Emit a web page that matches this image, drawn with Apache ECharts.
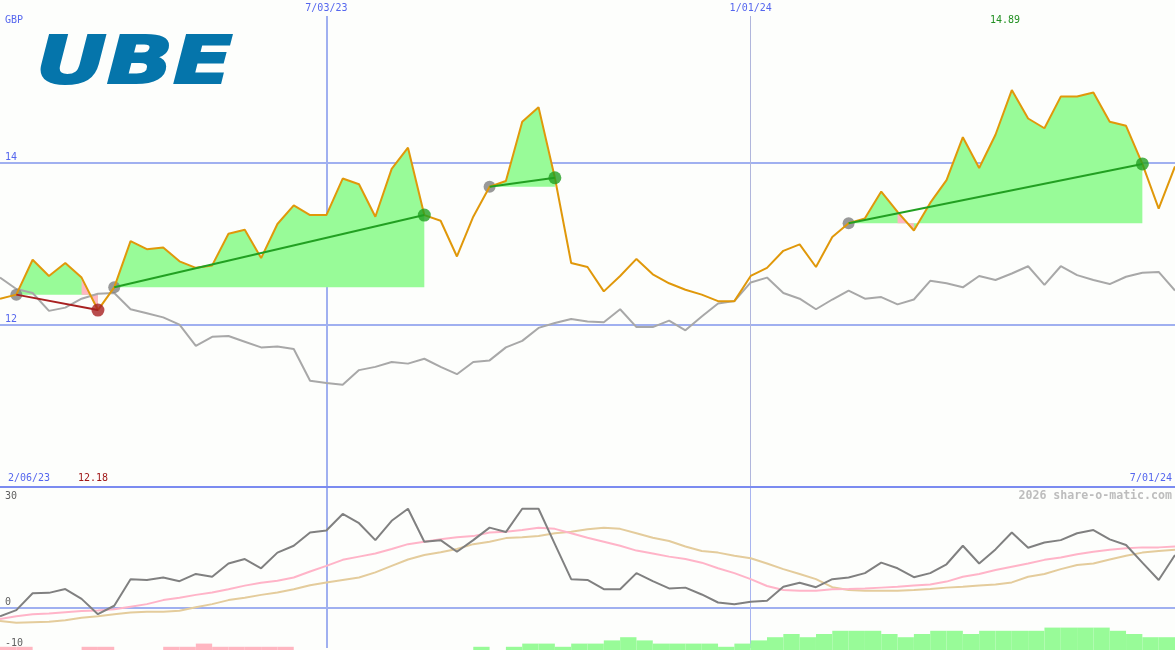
<!DOCTYPE html>
<html><head><meta charset="utf-8">
<script src="https://cdn.jsdelivr.net/npm/echarts@6/dist/echarts.min.js"></script>
<style>html,body{margin:0;padding:0;background:#fdfefc}#c{width:1175px;height:650px}</style>
</head><body><div id="c"></div>
<script>
// ---- data ----
const dates = ["2/13/23","2/20/23","2/27/23","3/06/23","3/13/23","3/20/23","3/27/23","4/03/23","4/10/23","4/17/23","4/24/23","5/01/23","5/08/23","5/15/23","5/22/23","5/29/23","6/05/23","6/12/23","6/19/23","6/26/23","7/03/23","7/10/23","7/17/23","7/24/23","7/31/23","8/07/23","8/14/23","8/21/23","8/28/23","9/04/23","9/11/23","9/18/23","9/25/23","10/02/23","10/09/23","10/16/23","10/23/23","10/30/23","11/06/23","11/13/23","11/20/23","11/27/23","12/04/23","12/11/23","12/18/23","12/25/23","1/01/24","1/08/24","1/15/24","1/22/24","1/29/24","2/05/24","2/12/24","2/19/24","2/26/24","3/04/24","3/11/24","3/18/24","3/25/24","4/01/24","4/08/24","4/15/24","4/22/24","4/29/24","5/06/24","5/13/24","5/20/24","5/27/24","6/03/24","6/10/24","6/17/24","6/24/24","7/01/24"];
const periodStart = "2/06/23";
const markDateMajor = "7/03/23";
const markDateMinor = "1/01/24";
const priceTicks = [12, 14];
const oscTicks = [-10, 0, 30];

const price = [12.32,12.37,12.80,12.60,12.76,12.58,12.18,12.46,13.03,12.93,
12.95,12.78,12.70,12.73,13.12,13.17,12.82,13.24,13.47,13.35,
13.35,13.80,13.73,13.33,13.92,14.18,13.35,13.28,12.84,13.33,
13.70,13.77,14.50,14.68,13.81,12.76,12.71,12.41,12.60,12.81,
12.62,12.51,12.43,12.37,12.29,12.29,12.60,12.70,12.91,12.99,
12.71,13.08,13.25,13.31,13.64,13.39,13.16,13.50,13.78,14.31,
13.93,14.34,14.89,14.54,14.42,14.81,14.81,14.86,14.50,14.45,
13.98,13.43,13.95];

const relative = [12.58,12.44,12.39,12.17,12.21,12.32,12.38,12.39,12.19,12.14,
12.09,12.00,11.74,11.85,11.86,11.79,11.72,11.73,11.70,11.31,
11.28,11.26,11.44,11.48,11.54,11.52,11.58,11.48,11.39,11.54,
11.56,11.72,11.80,11.96,12.02,12.07,12.04,12.03,12.19,11.97,
11.97,12.05,11.93,12.10,12.26,12.29,12.52,12.58,12.39,12.32,
12.19,12.31,12.42,12.32,12.34,12.25,12.31,12.54,12.51,12.46,
12.60,12.55,12.63,12.72,12.49,12.72,12.61,12.55,12.50,12.59,
12.64,12.65,12.42];

const tradeEntry = [1, 7, 30, 52];
const tradeExit  = [6, 26, 34, 70];

const oscillator = [-2.1,-0.6,3.6,3.7,4.65,2.2,-1.6,0.5,7.1,6.9,
7.5,6.6,8.4,7.7,11.0,12.1,9.8,13.7,15.4,18.7,
19.2,23.3,21.0,16.8,21.6,24.6,16.4,16.8,13.9,16.8,
19.9,18.8,24.6,24.6,15.8,7.1,6.9,4.6,4.6,8.6,
6.6,4.8,5.0,3.3,1.3,0.85,1.5,1.75,5.2,6.2,
5.1,7.1,7.5,8.6,11.2,9.8,7.6,8.6,10.8,15.4,
11.0,14.5,18.7,14.9,16.2,16.8,18.5,19.3,17.0,15.6,
11.2,6.9,13.1];

const oscFast = [-2.8,-2.1,-1.6,-1.4,-1.1,-0.8,-0.7,-0.4,0.25,0.9,
1.9,2.5,3.2,3.8,4.6,5.5,6.2,6.7,7.5,9.0,
10.4,11.9,12.7,13.5,14.6,15.8,16.4,17.0,17.5,17.8,
18.7,18.9,19.3,19.9,19.6,18.5,17.4,16.4,15.4,14.2,
13.5,12.7,12.1,11.2,9.8,8.6,7.1,5.4,4.4,4.2,
4.2,4.6,4.65,4.8,5.0,5.2,5.5,5.8,6.5,7.7,
8.4,9.4,10.2,11.0,11.9,12.5,13.3,13.9,14.4,14.8,
15.0,15.0,15.2];

const oscSlow = [-3.3,-3.7,-3.6,-3.5,-3.1,-2.5,-2.1,-1.6,-1.2,-1.0,
-1.0,-0.75,0.1,0.9,1.9,2.5,3.2,3.8,4.6,5.6,
6.3,6.9,7.5,8.8,10.4,12.0,13.1,13.8,14.6,15.8,
16.4,17.3,17.5,17.8,18.5,18.9,19.5,19.9,19.6,18.5,
17.4,16.6,15.2,14.1,13.7,12.9,12.3,11.0,9.6,8.4,
7.1,5.1,4.4,4.2,4.2,4.2,4.4,4.65,5.0,5.2,
5.5,5.8,6.3,7.7,8.4,9.6,10.6,11.0,12.0,12.9,
13.7,14.1,14.4];

// one value per week interval (between consecutive dates)
const histogram = [-1,-1,0,0,0,-1,-1,0,0,0,
-1,-1,-2,-1,-1,-1,-1,-1,0,0,
0,0,0,0,0,0,0,0,0,1,
0,1,2,2,1,2,2,3,4,3,
2,2,2,2,1,2,3,4,5,4,
5,6,6,6,5,4,5,6,6,5,
6,6,6,6,7,7,7,7,6,5,
4,4];

// ---- styles ----
const GREEN_FILL = '#98fb98', PINK_FILL = '#ffb6c1';
const BLUE_TXT = '#5566ee', GRID_BLUE = '#a0b0f0';
const MONO = '"DejaVu Sans Mono", monospace';

const chart = echarts.init(document.getElementById('c'), null, {renderer: 'canvas'});
const series = [];

tradeEntry.forEach((e, t) => {
  const x = tradeExit[t];
  const base = price[e];
  series.push({
    type: 'line', xAxisIndex: 0, yAxisIndex: 0, silent: true, z: 1,
    data: price.map((v, i) => (i >= e && i <= x) ? v : null),
    symbol: 'none', lineStyle: {width: 0, opacity: 0},
    areaStyle: {color: GREEN_FILL, opacity: 1, origin: base}
  });
  series.push({
    type: 'line', xAxisIndex: 0, yAxisIndex: 0, silent: true, z: 1,
    data: price.map((v, i) => ((i > e && i <= x && v < base) || (i >= e && i < x && price[i + 1] < base)) ? v : null),
    symbol: 'none', lineStyle: {width: 0, opacity: 0},
    areaStyle: {color: PINK_FILL, opacity: 1, origin: base}
  });
});

series.push({
  type: 'line', xAxisIndex: 0, yAxisIndex: 0, z: 2, data: relative,
  symbol: 'none', lineStyle: {color: '#a8a8a8', width: 2}
});
series.push({
  type: 'scatter', xAxisIndex: 0, yAxisIndex: 0, z: 3,
  data: tradeEntry.map(e => [e, price[e]]),
  symbolSize: 12, itemStyle: {color: '#808080'}
});
series.push({
  type: 'line', xAxisIndex: 0, yAxisIndex: 0, z: 4, data: price,
  symbol: 'none', lineStyle: {color: '#e0980a', width: 2}
});
tradeEntry.forEach((e, t) => {
  const x = tradeExit[t];
  const win = price[x] >= price[e];
  series.push({
    type: 'line', xAxisIndex: 0, yAxisIndex: 0, z: 5,
    data: [[e, price[e]], [x, price[x]]],
    symbol: 'none', lineStyle: {color: win ? '#22a022' : '#a82020', width: 2}
  });
});
series.push({
  type: 'scatter', xAxisIndex: 0, yAxisIndex: 0, z: 6,
  data: tradeExit.map((x, t) => ({
    value: [x, price[x]],
    itemStyle: {color: price[x] >= price[tradeEntry[t]] ? '#22a022' : '#a82020'}
  })),
  symbolSize: 13
});

// lower panel
series.push({type: 'line', xAxisIndex: 2, yAxisIndex: 1, data: oscSlow, symbol: 'none', lineStyle: {color: '#e4cc9c', width: 2}});
series.push({type: 'line', xAxisIndex: 2, yAxisIndex: 1, data: oscFast, symbol: 'none', lineStyle: {color: '#ffb4c8', width: 2}});
series.push({type: 'line', xAxisIndex: 2, yAxisIndex: 1, data: oscillator, symbol: 'none', lineStyle: {color: '#808080', width: 2}});
series.push({
  type: 'bar', xAxisIndex: 4, yAxisIndex: 2, barCategoryGap: '0%', barWidth: '100%',
  data: histogram.map(v => ({value: Math.abs(v), itemStyle: {color: v < 0 ? PINK_FILL : GREEN_FILL}}))
});

const hidden = {show: false};
const maxP = Math.max(...price), minP = Math.min(...price);

chart.setOption({
  animation: false,
  backgroundColor: '#fdfefc',
  grid: [
    {left: 0, right: 0, top: 0, height: 487},
    {left: 0, right: 0, top: 487, height: 161},
    {left: 0, right: 0, top: 618, height: 32}
  ],
  xAxis: [
    {gridIndex: 0, type: 'category', data: dates, boundaryGap: false, position: 'top',
     axisLine: {show: false, onZero: false}, axisTick: hidden,
     axisLabel: {show: true, inside: true, margin: 0, interval: (i, v) => v === markDateMajor || v === markDateMinor,
       color: BLUE_TXT, fontFamily: MONO, fontSize: 10, backgroundColor: '#fdfefc', padding: [3, 2, 3, 2]},
     splitLine: {show: true, interval: (i, v) => v === markDateMajor, lineStyle: {color: GRID_BLUE, width: 2}}},
    {gridIndex: 0, type: 'category', data: dates, boundaryGap: false, position: 'top',
     axisLine: {show: false, onZero: false}, axisTick: hidden, axisLabel: hidden,
     splitLine: {show: true, interval: (i, v) => v === markDateMinor, lineStyle: {color: '#b0b6dc', width: 1}}},
    {gridIndex: 1, type: 'category', data: dates, boundaryGap: false, position: 'top',
     axisLine: {show: true, onZero: false, lineStyle: {color: '#7b8bf0', width: 2}}, axisTick: hidden, axisLabel: hidden,
     splitLine: {show: true, interval: (i, v) => v === markDateMajor, lineStyle: {color: GRID_BLUE, width: 2}}},
    {gridIndex: 1, type: 'category', data: dates, boundaryGap: false, position: 'top',
     axisLine: {show: false, onZero: false}, axisTick: hidden, axisLabel: hidden,
     splitLine: {show: true, interval: (i, v) => v === markDateMinor, lineStyle: {color: '#a8b4f0', width: 1}}},
    {gridIndex: 2, type: 'category', data: dates.slice(0, dates.length - 1), boundaryGap: true, show: false}
  ],
  yAxis: [
    {gridIndex: 0, type: 'value', min: 10, max: 16, interval: 2,
     axisLine: hidden, axisTick: hidden,
     axisLabel: {inside: true, margin: 5, verticalAlign: 'bottom', color: BLUE_TXT, fontFamily: MONO, fontSize: 10,
       formatter: v => priceTicks.includes(v) ? String(v) : ''},
     splitLine: {show: true, showMinLine: false, showMaxLine: false, lineStyle: {color: GRID_BLUE, width: 2}}},
    {gridIndex: 1, type: 'value', min: -10, max: 30, interval: 10,
     axisLine: hidden, axisTick: hidden,
     axisLabel: {inside: true, margin: 5, verticalAlign: 'bottom', color: '#606060', fontFamily: MONO, fontSize: 10,
       formatter: v => (oscTicks.includes(v) && v !== 30) ? String(v) : ''},
     splitLine: {show: true, showMinLine: false, showMaxLine: false,
       lineStyle: {color: [GRID_BLUE, 'rgba(0,0,0,0)', 'rgba(0,0,0,0)'], width: 2}}},
    {gridIndex: 2, type: 'value', min: 0, max: 10, show: false}
  ],
  graphic: [
    {type: 'text', x: 36, y: 34, scaleX: 1.34, silent: true,
     style: {text: 'UBE', font: 'italic bold 65px "DejaVu Sans"', fill: '#0575ab', stroke: '#0575ab', lineWidth: 2, verticalAlign: 'top'}},
    {type: 'text', x: 5, y: 15, style: {text: 'GBP', font: '10px ' + MONO, fill: BLUE_TXT}},
    {type: 'text', x: 1005, y: 15, style: {text: maxP.toFixed(2), font: '10px ' + MONO, fill: '#229022', align: 'center'}},
    {type: 'text', x: 8, y: 473, style: {text: periodStart, font: '10px ' + MONO, fill: BLUE_TXT}},
    {type: 'text', x: 78, y: 473, style: {text: minP.toFixed(2), font: '10px ' + MONO, fill: '#a01818'}},
    {type: 'text', x: 1172, y: 473, style: {text: dates[dates.length - 1], font: '10px ' + MONO, fill: BLUE_TXT, align: 'right'}},
    {type: 'text', x: 5, y: 491, style: {text: String(oscTicks[2]), font: '10px ' + MONO, fill: '#606060'}},
    {type: 'text', x: 1172, y: 490, style: {text: '2026 share-o-matic.com', font: 'bold 11.6px ' + MONO, fill: '#bdbdbd', align: 'right'}}
  ],
  series: series
});
</script>
</body></html>
